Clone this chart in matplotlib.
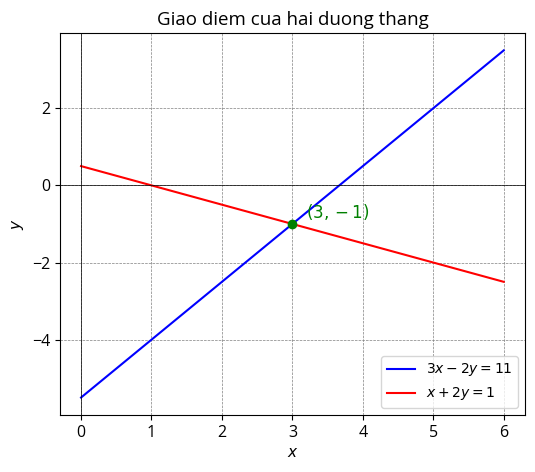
import matplotlib
matplotlib.use("Agg")
import matplotlib.pyplot as plt

plt.rcParams['font.family'] = ['Open Sans', 'DejaVu Sans']

# endpoints of both lines
x_line = [0, 6]
y_blue = [-5.5, 3.5]
y_red = [0.5, -2.5]
label_blue = r'$3x - 2y = 11$'
label_red = r'$x + 2y = 1$'

# intersection point
px, py = 3, -1

fig = plt.figure(figsize=(5.35, 4.72), dpi=100)
ax = fig.add_axes([0.112, 0.121, 0.869, 0.809])

ax.plot(x_line, y_blue, color='blue', label=label_blue)
ax.plot(x_line, y_red, color='red', label=label_red)
ax.plot(px, py, 'o', color='green', markersize=6)
ax.text(px + 0.2, py + 0.15, r'$(3, -1)$', color='green', fontsize=12)

ax.axhline(0, color='black', linewidth=0.5)
ax.axvline(0, color='black', linewidth=0.5)
ax.grid(True, color='gray', linestyle='--', linewidth=0.5)

ax.set_xlim(-0.3, 6.3)
ax.set_ylim(-5.95, 3.95)
ax.set_xticks([0, 1, 2, 3, 4, 5, 6])
ax.set_yticks([-4, -2, 0, 2])
ax.tick_params(labelsize=11.5)

ax.set_title('Giao diem cua hai duong thang', fontsize=13.5)
ax.set_xlabel(r'$x$', fontsize=11)
ax.set_ylabel(r'$y$', fontsize=11)
ax.legend(loc='lower right', fontsize=10)

fig.savefig('out.png', dpi=100)
